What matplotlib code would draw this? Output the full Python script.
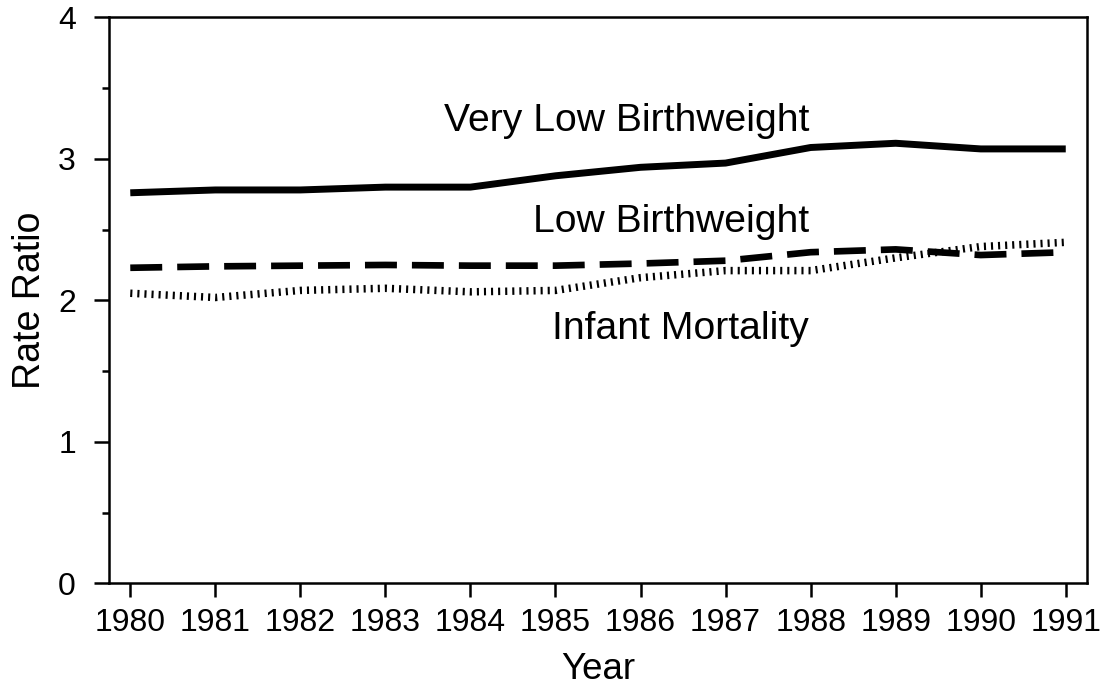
import matplotlib
matplotlib.use("Agg")
import matplotlib.pyplot as plt
from matplotlib.ticker import MultipleLocator

plt.rcParams['font.family'] = ['Liberation Sans', 'DejaVu Sans']
plt.rcParams['lines.scale_dashes'] = False

years = [1980, 1981, 1982, 1983, 1984, 1985, 1986, 1987, 1988, 1989, 1990, 1991]
very_low_bw = [2.76, 2.78, 2.78, 2.80, 2.80, 2.88, 2.94, 2.97, 3.08, 3.11, 3.07, 3.07]
low_bw = [2.23, 2.24, 2.245, 2.25, 2.245, 2.245, 2.26, 2.28, 2.34, 2.36, 2.32, 2.34]
infant_mort = [2.05, 2.02, 2.07, 2.085, 2.06, 2.07, 2.16, 2.21, 2.21, 2.30, 2.38, 2.41]

labels = ["Very Low Birthweight", "Low Birthweight", "Infant Mortality"]
label_y = [3.27, 2.55, 1.80]
label_x = 1987.98

fig = plt.figure(figsize=(11, 6.9), dpi=100)
ax = fig.add_axes([0.0991, 0.1546, 0.8891, 0.8203])

ax.plot(years, very_low_bw, color='black', lw=5.0, solid_capstyle='butt', solid_joinstyle='round')
ax.plot(years, low_bw, color='black', lw=4.8, linestyle=(0, (23, 10.8)), dash_capstyle='butt')
ax.plot(years, infant_mort, color='black', lw=5.4, linestyle=(0, (1.5, 3.6)), dash_capstyle='butt')

for t, yv in zip(labels, label_y):
    ax.text(label_x, yv, t, ha='right', va='center', fontsize=28.2)

ax.set_xlim(1979.75, 1991.25)
ax.set_ylim(0, 4)
ax.set_xticks(years)
ax.set_xticklabels([str(y) for y in years])
ax.yaxis.set_major_locator(MultipleLocator(1))
ax.yaxis.set_minor_locator(MultipleLocator(0.5))

for s in ax.spines.values():
    s.set_linewidth(1.8)

ax.tick_params(axis='x', which='major', length=10, width=1.8, labelsize=23, pad=8)
ax.tick_params(axis='y', which='major', length=10.8, width=1.8, labelsize=23, pad=13)
ax.tick_params(axis='y', which='minor', length=5.4, width=1.8)

ax.set_xlabel("Year", fontsize=26.5, labelpad=10)
ax.set_ylabel("Rate Ratio", fontsize=27, labelpad=7)

fig.savefig("out.png", dpi=100)
